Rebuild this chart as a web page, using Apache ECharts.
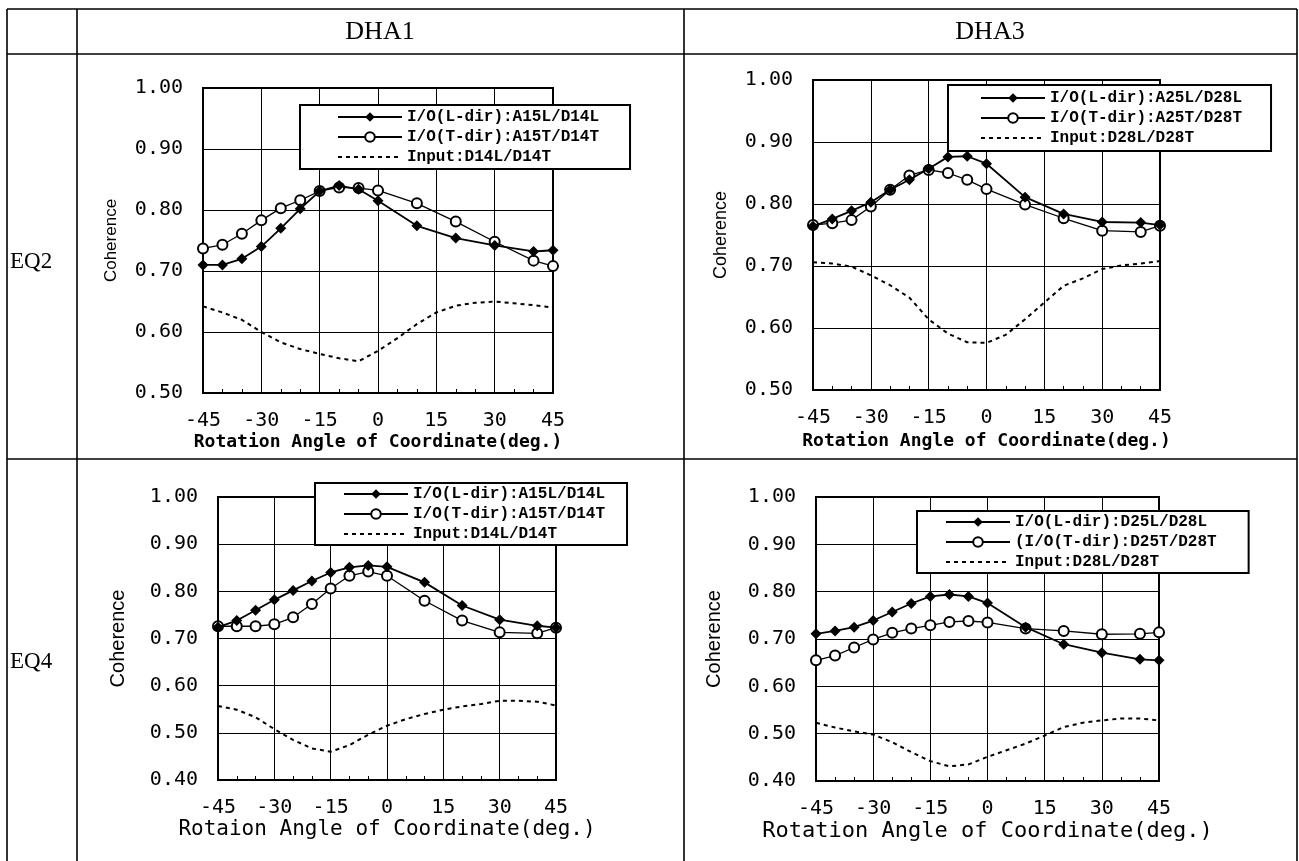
<!DOCTYPE html>
<html>
<head>
<meta charset="utf-8">
<script src="https://cdn.jsdelivr.net/npm/echarts@6/dist/echarts.min.js"></script>
<style>
  html, body { margin: 0; padding: 0; background: #fff; }
  #chart { width: 1299px; height: 861px; }
</style>
</head>
<body>
<div id="chart"></div>
<script>
// Rotation angles (deg.) of the I/O coherence points
const ioAngles = [-45, -40, -35, -30, -25, -20, -15, -10, -5, 0, 10, 20, 30, 40, 45];
// Rotation angles (deg.) of the input-pair coherence curve
const inputAngles = [-45, -40, -35, -30, -25, -20, -15, -10, -5, 0, 5, 10, 15, 20, 25, 30, 35, 40, 45];

// Table headings
const columnHeads = ['DHA1', 'DHA3'];
const rowHeads = ['EQ2', 'EQ4'];

// DHA1 / EQ2
const dha1Eq2Names = ['I/O(L-dir):A15L/D14L', 'I/O(T-dir):A15T/D14T', 'Input:D14L/D14T'];
const dha1Eq2L = [0.710, 0.710, 0.720, 0.740, 0.770, 0.802, 0.831, 0.840, 0.834, 0.815, 0.774, 0.754, 0.742, 0.732, 0.734];
const dha1Eq2T = [0.737, 0.743, 0.761, 0.783, 0.803, 0.816, 0.831, 0.837, 0.836, 0.832, 0.811, 0.781, 0.748, 0.717, 0.708];
const dha1Eq2In = [0.642, 0.632, 0.620, 0.600, 0.583, 0.572, 0.564, 0.557, 0.552, 0.569, 0.590, 0.613, 0.632, 0.643, 0.648, 0.650, 0.647, 0.644, 0.640];

// DHA3 / EQ2
const dha3Eq2Names = ['I/O(L-dir):A25L/D28L', 'I/O(T-dir):A25T/D28T', 'Input:D28L/D28T'];
const dha3Eq2L = [0.764, 0.776, 0.789, 0.803, 0.823, 0.839, 0.857, 0.876, 0.877, 0.865, 0.811, 0.784, 0.771, 0.770, 0.766];
const dha3Eq2T = [0.766, 0.769, 0.774, 0.796, 0.823, 0.846, 0.855, 0.850, 0.839, 0.824, 0.799, 0.777, 0.757, 0.755, 0.765];
const dha3Eq2In = [0.706, 0.704, 0.699, 0.685, 0.669, 0.649, 0.614, 0.591, 0.577, 0.576, 0.589, 0.614, 0.641, 0.668, 0.680, 0.695, 0.701, 0.704, 0.708];

// DHA1 / EQ4
const dha1Eq4Names = ['I/O(L-dir):A15L/D14L', 'I/O(T-dir):A15T/D14T', 'Input:D14L/D14T'];
const dha1Eq4L = [0.724, 0.738, 0.760, 0.782, 0.802, 0.822, 0.840, 0.851, 0.855, 0.852, 0.819, 0.770, 0.740, 0.727, 0.723];
const dha1Eq4T = [0.726, 0.726, 0.726, 0.730, 0.745, 0.773, 0.806, 0.833, 0.842, 0.833, 0.780, 0.738, 0.713, 0.711, 0.723];
const dha1Eq4In = [0.557, 0.549, 0.533, 0.508, 0.485, 0.467, 0.460, 0.474, 0.496, 0.515, 0.529, 0.540, 0.549, 0.556, 0.561, 0.568, 0.568, 0.566, 0.558];

// DHA3 / EQ4
const dha3Eq4Names = ['I/O(L-dir):D25L/D28L', '(I/O(T-dir):D25T/D28T', 'Input:D28L/D28T'];
const dha3Eq4L = [0.711, 0.717, 0.725, 0.739, 0.757, 0.775, 0.790, 0.794, 0.790, 0.776, 0.725, 0.689, 0.671, 0.657, 0.655];
const dha3Eq4T = [0.655, 0.665, 0.682, 0.699, 0.713, 0.722, 0.729, 0.736, 0.738, 0.735, 0.722, 0.717, 0.710, 0.711, 0.714];
const dha3Eq4In = [0.523, 0.513, 0.505, 0.498, 0.482, 0.461, 0.442, 0.431, 0.435, 0.451, 0.465, 0.479, 0.496, 0.514, 0.523, 0.528, 0.532, 0.532, 0.528];

// Axis captions
const xCaptionA = 'Rotation Angle of Coordinate(deg.)';
const xCaptionB = 'Rotaion Angle of Coordinate(deg.)';
const yCaption = 'Coherence';

const MONO = "'DejaVu Sans Mono', monospace";
const LEGEND_FONT = "'Liberation Mono', 'DejaVu Sans Mono', monospace";
const NARROW = "'Liberation Sans Narrow', 'Liberation Sans', sans-serif";
const SERIF = "'Liberation Serif', serif";

const panels = [
  { grid: { left: 203, top: 88, width: 350, height: 305 }, yMin: 0.5,
    names: dha1Eq2Names, L: dha1Eq2L, T: dha1Eq2T, In: dha1Eq2In,
    legend: { left: 300, top: 105, padding: [4, 31, 4, 37] },
    xName: xCaptionA, xNameStyle: { fontSize: 18, fontWeight: 'bold' }, xNameGap: 40, yNameGap: 83, yNameSize: 17 },
  { grid: { left: 813, top: 80, width: 347, height: 310 }, yMin: 0.5,
    names: dha3Eq2Names, L: dha3Eq2L, T: dha3Eq2T, In: dha3Eq2In,
    legend: { left: 948, top: 85, padding: [5, 29, 5, 32] },
    xName: xCaptionA, xNameStyle: { fontSize: 18, fontWeight: 'bold' }, xNameGap: 42, yNameGap: 83, yNameSize: 18 },
  { grid: { left: 218, top: 497, width: 338, height: 283 }, yMin: 0.4,
    names: dha1Eq4Names, L: dha1Eq4L, T: dha1Eq4T, In: dha1Eq4In,
    legend: { left: 315, top: 483, padding: [3, 22, 3, 28] },
    xName: xCaptionB, xNameStyle: { fontSize: 21 }, xNameGap: 36, yNameGap: 90, yNameSize: 20 },
  { grid: { left: 816, top: 497, width: 343, height: 284 }, yMin: 0.4,
    names: dha3Eq4Names, L: dha3Eq4L, T: dha3Eq4T, In: dha3Eq4In,
    legend: { left: 917, top: 511, padding: [3, 32, 3, 28] },
    xName: xCaptionA, xNameStyle: { fontSize: 22 }, xNameGap: 36, yNameGap: 92, yNameSize: 20 }
];

const pairs = (xs, ys) => xs.map((x, i) => [x, ys[i]]);

const option = {
  animation: false,
  backgroundColor: '#fff',
  grid: [], xAxis: [], yAxis: [], legend: [], series: [],
  graphic: []
};

panels.forEach((p, i) => {
  option.grid.push(Object.assign({ show: true, borderColor: '#000', borderWidth: 2, backgroundColor: '#fff' }, p.grid));
  option.xAxis.push({
    type: 'value', gridIndex: i, min: -45, max: 45, interval: 15,
    name: p.xName, nameLocation: 'middle', nameGap: p.xNameGap,
    nameTextStyle: Object.assign({ color: '#000', fontFamily: MONO }, p.xNameStyle),
    axisLine: { show: true, onZero: false, lineStyle: { color: '#000', width: 2 } },
    axisTick: { show: true, inside: true, length: 4, lineStyle: { color: '#000' } },
    minorTick: { show: true, splitNumber: 3, length: 4, lineStyle: { color: '#000', width: 1 } },
    splitLine: { show: true, lineStyle: { color: '#000', width: 1 } },
    axisLabel: { color: '#000', fontFamily: MONO, fontSize: 20, margin: 18 }
  });
  option.yAxis.push({
    type: 'value', gridIndex: i, min: p.yMin, max: 1.0, interval: 0.1,
    name: yCaption, nameLocation: 'middle', nameRotate: 90, nameGap: p.yNameGap,
    nameTextStyle: { color: '#000', fontFamily: NARROW, fontSize: p.yNameSize },
    axisLine: { show: true, onZero: false, lineStyle: { color: '#000', width: 2 } },
    axisTick: { show: false },
    splitLine: { show: true, lineStyle: { color: '#000', width: 1 } },
    axisLabel: { color: '#000', fontFamily: MONO, fontSize: 20, margin: 20,
      formatter: v => v.toFixed(2) }
  });
  option.legend.push({
    orient: 'vertical', left: p.legend.left, top: p.legend.top, padding: p.legend.padding,
    backgroundColor: '#fff', borderColor: '#000', borderWidth: 2,
    itemWidth: 64, itemHeight: 12, itemGap: 4, selectedMode: false,
    textStyle: { color: '#000', fontFamily: LEGEND_FONT, fontSize: 16, fontWeight: 'bold', lineHeight: 16 },
    data: [
      { name: p.names[0] },
      { name: p.names[1] },
      { name: p.names[2], itemStyle: { opacity: 0 } }
    ]
  });
  option.series.push(
    { type: 'line', name: p.names[0], xAxisIndex: i, yAxisIndex: i,
      data: pairs(ioAngles, p.L), symbol: 'diamond', symbolSize: 11,
      itemStyle: { color: '#000' }, lineStyle: { color: '#000', width: 1.8 }, z: 4 },
    { type: 'line', name: p.names[1], xAxisIndex: i, yAxisIndex: i,
      data: pairs(ioAngles, p.T), symbol: 'emptyCircle', symbolSize: 10,
      itemStyle: { color: '#000', borderWidth: 1.3 }, lineStyle: { color: '#000', width: 1.3 }, z: 3 },
    { type: 'line', name: p.names[2], xAxisIndex: i, yAxisIndex: i,
      data: pairs(inputAngles, p.In), symbol: 'none',
      itemStyle: { color: '#000' }, lineStyle: { color: '#000', width: 2, type: [4, 4] }, z: 2 }
  );
});

// Table frame around the four panels
const ruleStyle = { stroke: '#000', lineWidth: 1.6 };
const rules = [
  [7, 9, 1297, 9], [7, 54, 1297, 54], [7, 459, 1297, 459],
  [7, 9, 7, 861], [77, 9, 77, 861], [684, 9, 684, 861], [1297, 9, 1297, 861]
];
rules.forEach(r => option.graphic.push({
  type: 'line', silent: true, z: -1,
  shape: { x1: r[0], y1: r[1], x2: r[2], y2: r[3] }, style: ruleStyle
}));
[[380, 32], [990, 32]].forEach((pos, i) => option.graphic.push({
  type: 'text', x: pos[0], y: pos[1], silent: true,
  style: { text: columnHeads[i], fill: '#000', font: '26px ' + SERIF, align: 'center', verticalAlign: 'middle' }
}));
[[10, 262], [10, 662]].forEach((pos, i) => option.graphic.push({
  type: 'text', x: pos[0], y: pos[1], silent: true,
  style: { text: rowHeads[i], fill: '#000', font: '23px ' + SERIF, align: 'left', verticalAlign: 'middle' }
}));

const chart = echarts.init(document.getElementById('chart'), null, { renderer: 'canvas' });
chart.setOption(option);
</script>
</body>
</html>
